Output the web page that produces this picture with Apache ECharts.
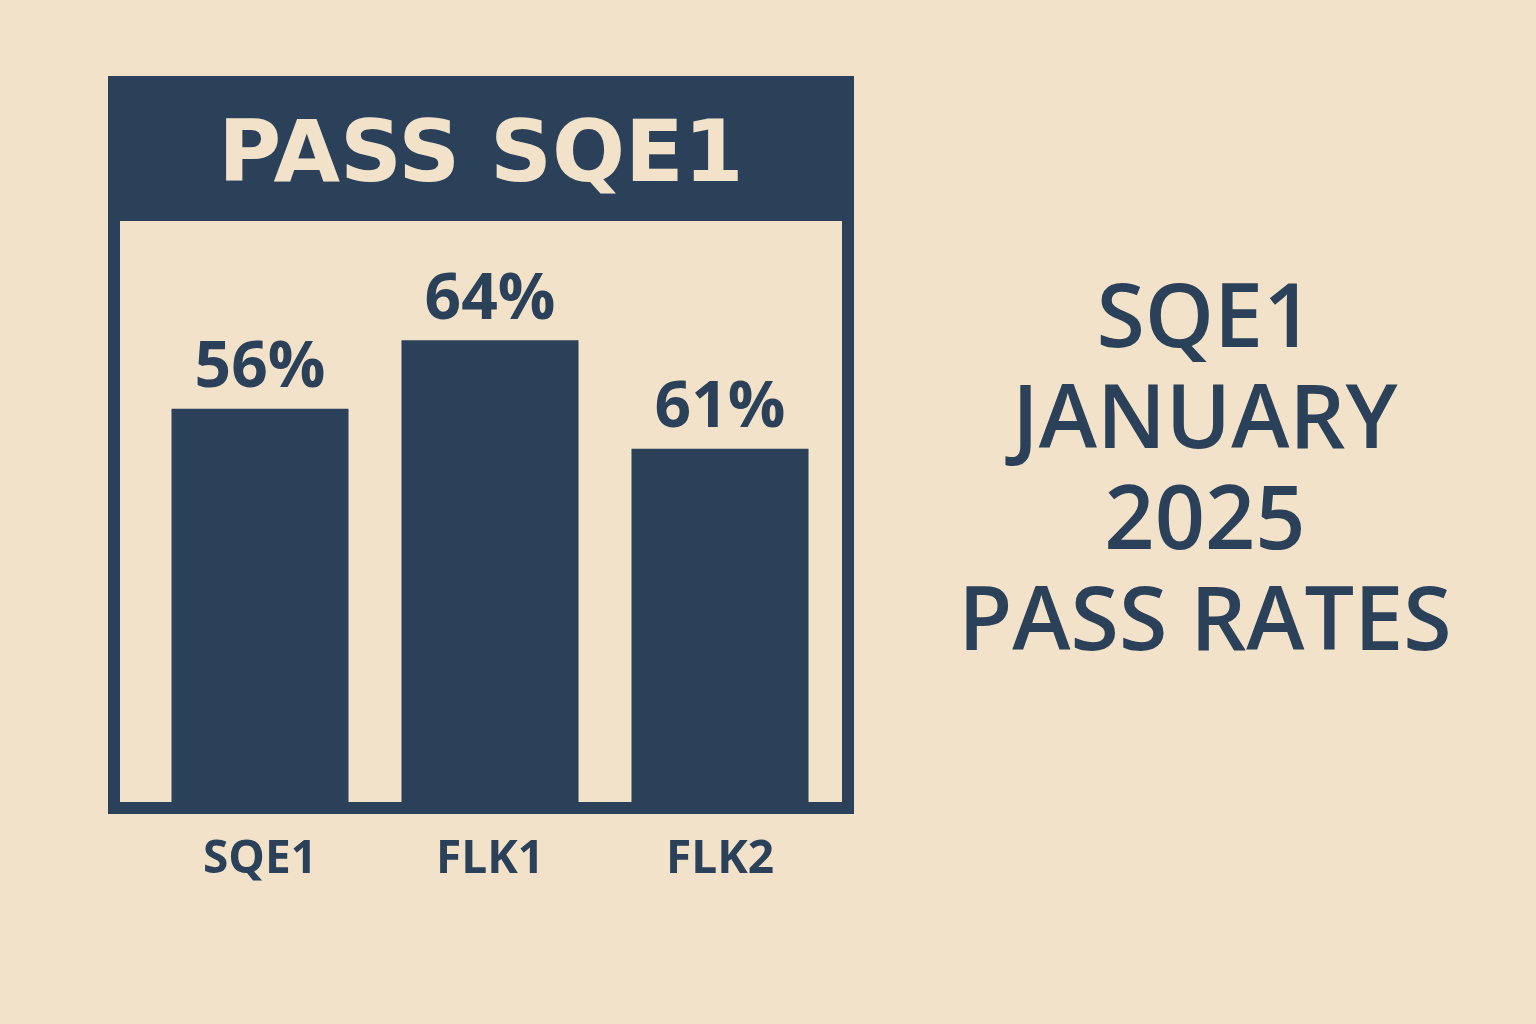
<!DOCTYPE html>
<html>
<head>
<meta charset="utf-8">
<script src="https://cdn.jsdelivr.net/npm/echarts@6/dist/echarts.min.js"></script>
<style>
  html, body { margin: 0; padding: 0; background: #f2e2ca; }
  #chart { width: 1536px; height: 1024px; }
</style>
</head>
<body>
<div id="chart"></div>
<script>
// SQE1 January 2025 pass rates: poster-style bar card with a caption on the right.
const categories = ["SQE1", "FLK1", "FLK2"];
const passRates = [56, 64, 61];          // the printed labels
const barHeights = [54.2, 63.6, 48.7];   // bar heights as drawn in the picture (same 0-80 scale)
const headerTitle = "PASS SQE1";
const sideCaption = ["SQE1", "JANUARY", "2025", "PASS RATES"];

const NAVY = "#2a4159";
const CREAM = "#f2e2ca";
const FONT = "'Open Sans', 'DejaVu Sans', sans-serif";

const chart = echarts.init(document.getElementById("chart"), null, { renderer: "canvas" });

chart.setOption({
  backgroundColor: CREAM,
  animation: false,
  title: [
    {
      text: headerTitle,
      left: 476, top: 104, textAlign: "center",
      textStyle: { color: CREAM, fontFamily: "'DejaVu Sans', sans-serif", fontWeight: 700, fontSize: 86, lineHeight: 100 }
    },
    {
      text: sideCaption.join("\n"),
      left: 1200, top: 266, textAlign: "center",
      textStyle: { color: NAVY, fontFamily: FONT, fontWeight: 600, fontSize: 88, lineHeight: 101 }
    }
  ],
  graphic: [
    // outer frame
    { type: "rect", z: 0, shape: { x: 114, y: 82, width: 734, height: 726 },
      style: { fill: null, stroke: NAVY, lineWidth: 12 } },
    // header band
    { type: "rect", z: 0, shape: { x: 108, y: 76, width: 746, height: 145 },
      style: { fill: NAVY } }
  ],
  grid: { left: 145, width: 690, top: 221, bottom: 1024 - 803 },
  xAxis: {
    type: "category",
    data: categories,
    axisLine: { show: false },
    axisTick: { show: false },
    axisLabel: { color: NAVY, fontFamily: FONT, fontWeight: 700, fontSize: 46, margin: 34 }
  },
  yAxis: { type: "value", min: 0, max: 80, show: false, splitLine: { show: false } },
  series: [{
    type: "bar",
    data: barHeights,
    barWidth: 177,
    itemStyle: { color: NAVY },
    label: {
      show: true,
      position: "top",
      distance: 8,
      color: NAVY,
      fontFamily: FONT,
      fontWeight: 700,
      fontSize: 64,
      formatter: (p) => passRates[p.dataIndex] + "%"
    }
  }]
});
</script>
</body>
</html>
